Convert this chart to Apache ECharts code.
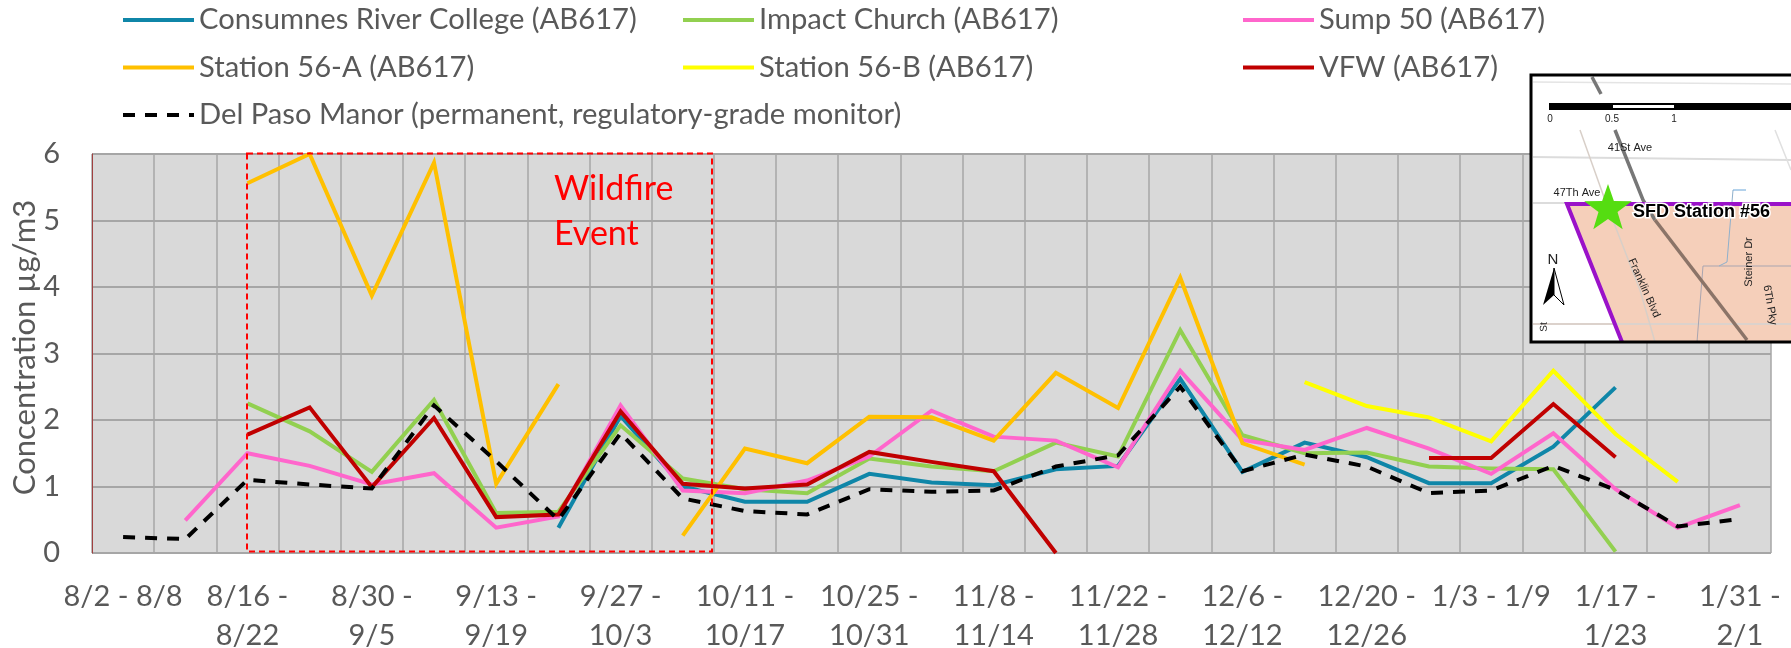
<!DOCTYPE html>
<html>
<head>
<meta charset="utf-8">
<title>Concentration by week</title>
<script src="https://cdn.jsdelivr.net/npm/echarts@6/dist/echarts.min.js"></script>
<style>
  html, body { margin: 0; padding: 0; background: #fff; }
  #chart { width: 1791px; height: 648px; }
</style>
</head>
<body>
<div id="chart"></div>
<script>
const weeks = ['8/2 - 8/8', '8/9 - 8/15', '8/16 -\n8/22', '8/23 - 8/29', '8/30 -\n9/5', '9/6 - 9/12',
  '9/13 -\n9/19', '9/20 - 9/26', '9/27 -\n10/3', '10/4 - 10/10', '10/11 -\n10/17', '10/18 - 10/24',
  '10/25 -\n10/31', '11/1 - 11/7', '11/8 -\n11/14', '11/15 - 11/21', '11/22 -\n11/28', '11/29 - 12/5',
  '12/6 -\n12/12', '12/13 - 12/19', '12/20 -\n12/26', '12/27 - 1/2', '1/3 - 1/9', '1/10 - 1/16',
  '1/17 -\n1/23', '1/24 - 1/30', '1/31 -\n2/1']

const consumnes = [null, null, null, null, null, null, null, 0.38, 2.06, 1.0, 0.77, 0.77, 1.19, 1.06, 1.02,
  1.26, 1.31, 2.62, 1.22, 1.66, 1.44, 1.05, 1.05, 1.6, 2.49, null, null]
const impact = [null, null, 2.25, 1.83, 1.22, 2.3, 0.6, 0.62, 1.92, 1.12, 0.96, 0.9, 1.42, 1.3, 1.23,
  1.66, 1.45, 3.35, 1.77, 1.5, 1.51, 1.3, 1.27, 1.26, 0.02, null, null]
const sump = [null, 0.49, 1.5, 1.31, 1.03, 1.2, 0.38, 0.55, 2.22, 0.94, 0.9, 1.09, 1.45, 2.14, 1.75,
  1.69, 1.29, 2.74, 1.7, 1.55, 1.88, 1.57, 1.19, 1.8, 0.96, 0.38, 0.72]
const station56a = [null, null, 5.56, 6.0, 3.87, 5.87, 1.04, 2.54, null, 0.26, 1.57, 1.35, 2.05, 2.04, 1.69,
  2.71, 2.18, 4.14, 1.65, 1.33, null, null, null, null, null, null, null]
const station56b = [null, null, null, null, null, null, null, null, null, null, null, null, null, null, null,
  null, null, null, null, 2.57, 2.21, 2.04, 1.68, 2.74, 1.79, 1.07, null]
const vfw = [null, null, 1.78, 2.19, 0.99, 2.03, 0.54, 0.58, 2.13, 1.04, 0.97, 1.03, 1.52, 1.37, 1.23,
  0, null, null, null, null, null, 1.43, 1.43, 2.24, 1.44, null, null]
const delPaso = [0.24, 0.21, 1.1, 1.03, 0.97, 2.22, 1.38, 0.5, 1.8, 0.82, 0.63, 0.58, 0.96, 0.92, 0.94,
  1.3, 1.47, 2.5, 1.23, 1.48, 1.3, 0.9, 0.94, 1.31, 0.95, 0.4, 0.51]

const FONT = 'Lato'
const TEXT = '#595959'

function makeLine(name, data, color, dash) {
  return {
    name,
    type: 'line',
    data,
    symbol: 'none',
    smooth: false,
    connectNulls: false,
    lineStyle: { color, width: 4, type: dash || 'solid', cap: 'butt', join: 'miter' },
    itemStyle: { color },
  }
}

function makeLegend(left, names) {
  return {
    left,
    top: 5,
    padding: 0,
    orient: 'vertical',
    data: names,
    selectedMode: false,
    itemWidth: 71,
    itemHeight: 14,
    itemGap: 17.5,
    // the line series legend adds a circle in the middle of the line, hide it
    itemStyle: { opacity: 0 },
    lineStyle: { width: 4 },
    textStyle: { fontFamily: FONT, fontSize: 29.2, color: TEXT, lineHeight: 30 },
  }
}

// five pointed star for the station marker
function starPoints(cx, cy, r) {
  const pts = []
  for (let i = 0; i < 10; i++) {
    const rad = i % 2 ? r * 0.4 : r
    const a = -Math.PI / 2 + i * Math.PI / 5
    pts.push([cx + rad * Math.cos(a), cy + rad * Math.sin(a)])
  }
  return pts
}

function road(points, color, width) {
  return { type: 'polyline', z: 22, shape: { points }, style: { stroke: color, fill: null, lineWidth: width } }
}

function mapText(text, x, y, size, rotation) {
  return {
    type: 'text', z: 24, x, y, rotation: rotation || 0,
    style: { text, fontFamily: 'Liberation Sans', fontSize: size, fill: '#222', align: 'center', verticalAlign: 'middle' },
  }
}

// inset map and wildfire box
const annotations = [
  {
    type: 'rect', z: 15, shape: { x: 247, y: 153.5, width: 465, height: 398 },
    style: { fill: null, stroke: '#ff0000', lineWidth: 2, lineDash: [6, 4] },
  },
  {
    type: 'text', z: 16, x: 554, y: 167,
    style: { text: 'Wildfire\nEvent', fontFamily: FONT, fontSize: 34, lineHeight: 45, fill: '#ff0000' },
  },
  { type: 'rect', z: 20, shape: { x: 1531, y: 75, width: 262, height: 267 }, style: { fill: '#fff', stroke: null } },
  { type: 'polygon', z: 21, shape: { points: [[1565, 203], [1791, 203], [1791, 342], [1621, 342]] }, style: { fill: '#f5cfba' } },
  road([[1533, 82], [1791, 84]], '#e4e4e4', 1.5),
  road([[1533, 157], [1791, 160]], '#dcdcdc', 2),
  road([[1533, 203], [1565, 203]], '#dcdcdc', 2),
  road([[1533, 324], [1791, 324]], '#dcd2cc', 2),
  road([[1580, 130], [1605, 200], [1640, 290], [1655, 342]], '#d8cfc8', 1.5),
  road([[1775, 130], [1791, 170]], '#e0e0e0', 1.5),
  road([[1703, 266], [1791, 266]], '#a9a5b0', 1),
  road([[1703, 266], [1697, 342]], '#a9a5b0', 1),
  road([[1733, 190], [1727, 262], [1719, 266]], '#8fb0cc', 1),
  road([[1733, 190], [1746, 190]], '#66a4d8', 1),
  road([[1592, 77], [1601, 94]], '#777', 3.5),
  road([[1615, 130], [1643, 200], [1655, 220]], '#777', 3.5),
  road([[1655, 220], [1747, 340]], '#8b7468', 3.5),
  { type: 'rect', z: 23, shape: { x: 1549, y: 103, width: 242, height: 7 }, style: { fill: '#000' } },
  { type: 'rect', z: 23, shape: { x: 1613, y: 105, width: 61, height: 3 }, style: { fill: '#fff' } },
  mapText('0', 1550, 119, 10),
  mapText('0.5', 1612, 119, 10),
  mapText('1', 1674, 119, 10),
  mapText('41St Ave', 1630, 148, 11),
  mapText('47Th Ave', 1577, 193, 11),
  mapText('Franklin Blvd', 1644, 288, 11, -1.15),
  mapText('Steiner Dr', 1749, 262, 11, 1.57),
  mapText('6Th Pky', 1770, 305, 11, -1.4),
  mapText('St', 1544, 327, 10, 1.57),
  { type: 'polyline', z: 23, shape: { points: [[1622, 342], [1567, 204], [1791, 204]] }, style: { stroke: '#9a12c9', fill: null, lineWidth: 4 } },
  { type: 'polygon', z: 25, shape: { points: starPoints(1608, 209, 25) }, style: { fill: '#55dd11' } },
  {
    type: 'text', z: 26, x: 1633, y: 212,
    style: {
      text: 'SFD Station #56', fontFamily: 'Liberation Sans', fontWeight: 'bold', fontSize: 18,
      fill: '#000', stroke: '#fff', lineWidth: 3, verticalAlign: 'middle',
    },
  },
  mapText('N', 1553, 260, 15),
  { type: 'polygon', z: 24, shape: { points: [[1554, 268], [1543, 305], [1554, 295]] }, style: { fill: '#000' } },
  { type: 'polygon', z: 24, shape: { points: [[1554, 268], [1564, 305], [1554, 295]] }, style: { fill: '#fff', stroke: '#000', lineWidth: 1 } },
  // frame goes last so roads end under it
  { type: 'rect', z: 27, shape: { x: 1531, y: 75, width: 265, height: 267 }, style: { fill: null, stroke: '#000', lineWidth: 3 } },
]

const chart = echarts.init(document.getElementById('chart'))
chart.setOption({
  animation: false,
  backgroundColor: '#fff',
  grid: {
    left: 92, right: 20, top: 154, bottom: 95, show: true, backgroundColor: '#d9d9d9', borderWidth: 0,
    outerBoundsMode: 'none',
  },
  legend: [
    makeLegend(121, ['Consumnes River College (AB617)', 'Station 56-A (AB617)', 'Del Paso Manor (permanent, regulatory-grade monitor)']),
    makeLegend(681, ['Impact Church (AB617)', 'Station 56-B (AB617)']),
    makeLegend(1241, ['Sump 50 (AB617)', 'VFW (AB617)']),
  ],
  xAxis: {
    type: 'category',
    data: weeks,
    boundaryGap: true,
    axisTick: { show: false },
    axisLine: { show: false },
    splitLine: { show: true, interval: 0, lineStyle: { color: '#a6a6a6', width: 1.5 } },
    axisLabel: {
      interval: 1, margin: 24, fontFamily: FONT, fontSize: 29, lineHeight: 39, color: TEXT,
      hideOverlap: false, verticalAlign: 'top',
    },
  },
  yAxis: {
    type: 'value',
    min: 0,
    max: 6,
    interval: 1,
    name: 'Concentration µg/m3',
    nameLocation: 'middle',
    nameGap: 52,
    nameMoveOverlap: false,
    nameTextStyle: { fontFamily: FONT, fontSize: 31, color: TEXT, padding: [0, 0, 0, 12] },
    axisTick: { show: false },
    axisLine: { show: true, lineStyle: { color: '#a04040', width: 1 } },
    splitLine: { show: true, lineStyle: { color: '#a6a6a6', width: 2 } },
    axisLabel: { margin: 32, fontFamily: FONT, fontSize: 29, color: TEXT },
  },
  series: [
    makeLine('Consumnes River College (AB617)', consumnes, '#0f86a8'),
    makeLine('Impact Church (AB617)', impact, '#92d050'),
    makeLine('Sump 50 (AB617)', sump, '#ff66cc'),
    makeLine('Station 56-A (AB617)', station56a, '#ffc000'),
    makeLine('Station 56-B (AB617)', station56b, '#ffff00'),
    makeLine('VFW (AB617)', vfw, '#c00000'),
    makeLine('Del Paso Manor (permanent, regulatory-grade monitor)', delPaso, '#000000', [12, 10]),
  ],
  graphic: annotations,
})
</script>
</body>
</html>
